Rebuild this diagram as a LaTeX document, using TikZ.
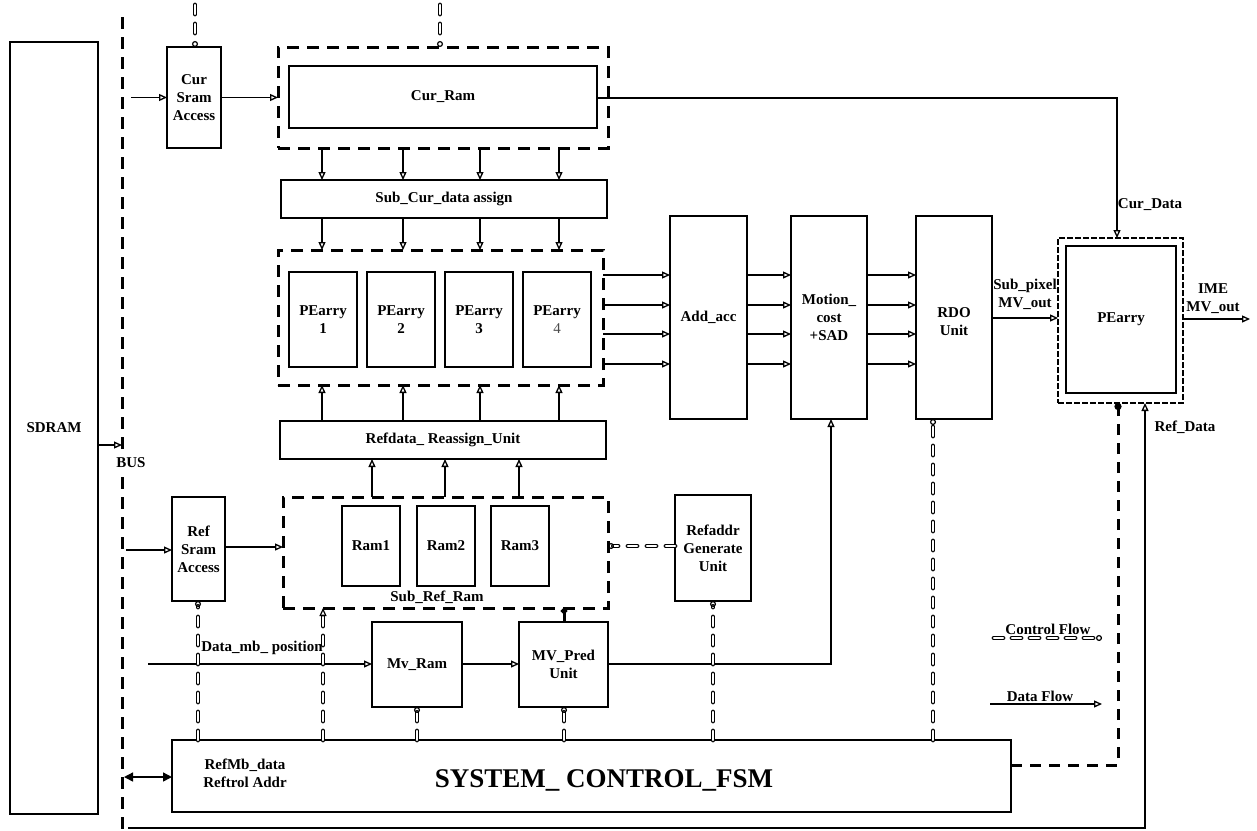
\documentclass[tikz,border=0pt]{standalone}
\usepackage{fontspec}
\setmainfont{Liberation Serif}
\usetikzlibrary{arrows.meta}
\begin{document}
\begin{tikzpicture}[x=1pt,y=-1pt,
 box/.style={draw, line width=1.3pt, inner sep=0pt, outer sep=0pt, align=center, font=\bfseries\fontsize{15}{18}\selectfont},
 dbox/.style={draw, line width=3pt, dash pattern=on 12pt off 8pt, inner sep=0pt, outer sep=0pt},
 data/.style={line width=1.4pt, -{Triangle[open,length=8pt,width=7pt,line width=1.3pt]}},
 ctrl/.style={line width=1.1pt, double=white, double distance=2.6pt, dash pattern=on 9pt off 10pt, line cap=round, -{Circle[open,length=6pt,line width=1.2pt]}},
 ctrlup/.style={line width=1.1pt, double=white, double distance=2.6pt, dash pattern=on 9pt off 10pt, line cap=round, -{Triangle[open,length=8pt,width=7pt,line width=1.2pt]}},
 bigctrl/.style={line width=3pt, dash pattern=on 11pt off 8pt, -{Circle[length=7pt]}},
 lbl/.style={font=\bfseries\fontsize{15}{18}\selectfont, align=center, inner sep=0pt}]
\useasboundingbox (0,0) rectangle (1257,830);

% boxes
\node[box, minimum width=88, minimum height=772] (sdram) at (54,428) {SDRAM};
\node[box, minimum width=54, minimum height=101] (cursram) at (194,97.5) {Cur\\Sram\\Access};
\node[dbox, minimum width=330, minimum height=101] (curdash) at (443,97.5) {};
\node[box, minimum width=308, minimum height=62] (curram) at (443,97) {Cur\_Ram};
\node[box, minimum width=326, minimum height=38] (subcur) at (444,199) {Sub\_Cur\_data assign};
\node[dbox, minimum width=325, minimum height=135] (pedash) at (440.5,317.5) {};
\node[box, minimum width=68, minimum height=95] (pe1) at (323,319.5) {PEarry\\1};
\node[box, minimum width=68, minimum height=95] (pe2) at (401,319.5) {PEarry\\2};
\node[box, minimum width=68, minimum height=95] (pe3) at (479,319.5) {PEarry\\3};
\node[box, minimum width=68, minimum height=95] (pe4) at (557,319.5) {PEarry\\{\mdseries\color{black!70}4}};
\node[box, minimum width=326, minimum height=38] (refdata) at (443,440) {Refdata\_ Reassign\_Unit};
\node[box, minimum width=77, minimum height=203] (addacc) at (708.5,317.5) {Add\_acc};
\node[box, minimum width=76, minimum height=203] (motion) at (829,317.5) {Motion\_\\cost\\+SAD};
\node[box, minimum width=76, minimum height=203] (rdo) at (954,317.5) {\\RDO\\Unit};
\node[draw, line width=2.6pt, dash pattern=on 6pt off 2pt, inner sep=0pt, outer sep=0pt, minimum width=125, minimum height=165] (rpedash) at (1120.5,320.5) {};
\node[box, minimum width=110, minimum height=147] (rpe) at (1121,319.5) {PEarry};
\node[box, minimum width=53, minimum height=104] (refsram) at (198.5,549) {Ref\\Sram\\Access};
\node[dbox, minimum width=325, minimum height=111] (subrefdash) at (445.5,552.5) {};
\node[box, minimum width=58, minimum height=80] (ram1) at (371,546) {Ram1};
\node[box, minimum width=58, minimum height=80] (ram2) at (446,546) {Ram2};
\node[box, minimum width=58, minimum height=80] (ram3) at (520,546) {Ram3};
\node[box, minimum width=76, minimum height=106] (refaddr) at (713,548) {Refaddr\\Generate\\Unit};
\node[box, minimum width=90, minimum height=85] (mvram) at (417,664.5) {Mv\_Ram};
\node[box, minimum width=89, minimum height=85] (mvpred) at (563.5,664.5) {MV\_Pred\\Unit};
\node[box, minimum width=839, minimum height=72] (fsm) at (591.5,776) {};

% bus
\draw[line width=3pt, dash pattern=on 12pt off 8pt] (122,17) coordinate (bustop) -- (122,830) coordinate (busbot);
\coordinate (busS) at (122,445);

% labels
\node[lbl, font=\bfseries\fontsize{27}{30}\selectfont] (fsmtxt) at (604,780) {SYSTEM\_ CONTROL\_FSM};
\node[lbl] (reftrol) at (245,773) {RefMb\_data\\Reftrol Addr};
\node[lbl] (subrefl) at (437,597) {Sub\_Ref\_Ram};
\node[lbl, fill=white, inner sep=1pt] (busl) at (131,463) {BUS};
\node[lbl] (curdl) at (1150,205) {Cur\_Data};
\node[lbl] (refdl) at (1185,427) {Ref\_Data};
\node[lbl] (subpl) at (1025,294) {Sub\_pixel\\MV\_out};
\node[lbl] (imel) at (1213,299) {IME\\MV\_out};
\node[lbl] (dmbl) at (262,648) {Data\_mb\_ position};
\node[lbl] (cfl) at (1048,629) {Control Flow};
\node[lbl] (dfl) at (1040,696) {Data Flow};

% coordinates
\foreach \n/\x in {a/322,b/403,c/480,d/559,r1/372,r2/445,r3/519,cd/1117,rd/1145,ct/1118,
  f1/198,f2/323,f3/417,f4/564,f5/713,f6/933,m/831,t1/195,t2/440}
  \coordinate (x\n) at (\x,0);
\foreach \n/\y in {1/275,2/305,3/334,4/364}
  \coordinate (y\n) at (0,\y);

\draw[data] (sdram.east |- busS) -- (busS);

% top controls
\coordinate (tt1) at (195,5);
\coordinate (tt2) at (440,5);
\draw[ctrl] (tt1) -- (cursram.north -| xt1);
\draw[ctrl] (tt2) -- (curdash.north -| xt2);

% cur path
\coordinate (in1) at (131,97.5);
\draw[data] (in1) -- (cursram.west);
\draw[data] (cursram.east) -- (curdash.west);
\coordinate (cdc) at (1117,98);
\draw[line width=1.4pt, -{Triangle[open,length=8pt,width=7pt,line width=1.3pt]}] (curram.east |- cdc) -- (cdc) -- (rpedash.north -| xcd);

\foreach \c in {a,b,c,d}{
  \draw[data] (curdash.south -| x\c) -- (subcur.north -| x\c);
  \draw[data] (subcur.south -| x\c) -- (pedash.north -| x\c);
  \draw[data] (refdata.north -| x\c) -- (pedash.south -| x\c);
}
\foreach \r in {1,2,3,4}{
  \draw[data] (pedash.east |- y\r) -- (addacc.west |- y\r);
  \draw[data] (addacc.east |- y\r) -- (motion.west |- y\r);
  \draw[data] (motion.east |- y\r) -- (rdo.west |- y\r);
}
\coordinate (ys) at (0,318);
\draw[data] (rdo.east |- ys) -- (rpedash.west |- ys);
\coordinate (imeo) at (1250,319);
\draw[data] (rpedash.east |- imeo) -- (imeo);

% ref path
\coordinate (in2) at (126,550);
\draw[data] (in2) -- (refsram.west |- in2);
\coordinate (ys2) at (0,547);
\draw[data] (refsram.east |- ys2) -- (subrefdash.west |- ys2);
\foreach \c in {r1,r2,r3}
  \draw[data] (subrefdash.north -| x\c) -- (refdata.south -| x\c);
\coordinate (ys3) at (0,546);
\draw[ctrl] (refaddr.west |- ys3) -- (subrefdash.east |- ys3);

% mv path
\coordinate (in3) at (148,664);
\draw[data] (in3) -- (mvram.west |- in3);
\draw[data] (mvram.east |- in3) -- (mvpred.west |- in3);
\draw[line width=1.4pt, -{Triangle[open,length=8pt,width=7pt,line width=1.3pt]}] (mvpred.east |- in3) -- (xm |- in3) -- (motion.south -| xm);
\draw[line width=3pt, -{Circle[length=6pt]}] (mvpred.north -| xf4) -- (subrefdash.south -| xf4);

% fsm controls
\draw[ctrl] (fsm.north -| xf1) -- (refsram.south -| xf1);
\draw[ctrlup] (fsm.north -| xf2) -- (subrefdash.south -| xf2);
\draw[ctrl] (fsm.north -| xf3) -- (mvram.south -| xf3);
\draw[ctrl] (fsm.north -| xf4) -- (mvpred.south -| xf4);
\draw[ctrl] (fsm.north -| xf5) -- (refaddr.south -| xf5);
\draw[ctrl] (fsm.north -| xf6) -- (rdo.south -| xf6);
\coordinate (fe) at (0,765);
\draw[bigctrl] (fsm.east |- fe) -- (xct |- fe) -- (rpedash.south -| xct);
\coordinate (bb) at (124,777);
\draw[line width=1.4pt, {Triangle[length=9pt,width=9pt]}-{Triangle[length=9pt,width=9pt]}] (bb) -- (fsm.west |- bb);

% bottom ref data line
\coordinate (bl) at (128,828);
\draw[line width=1.4pt, -{Triangle[open,length=8pt,width=7pt,line width=1.3pt]}] (bl) -- (xrd |- bl) -- (rpedash.south -| xrd);

% legend
\coordinate (cf1) at (994,638);
\coordinate (cf2) at (1102,638);
\draw[ctrl, dash pattern=on 9pt off 9pt] (cf1) -- (cf2);
\coordinate (df1) at (990,704);
\coordinate (df2) at (1102,704);
\draw[data] (df1) -- (df2);
\end{tikzpicture}
\end{document}
